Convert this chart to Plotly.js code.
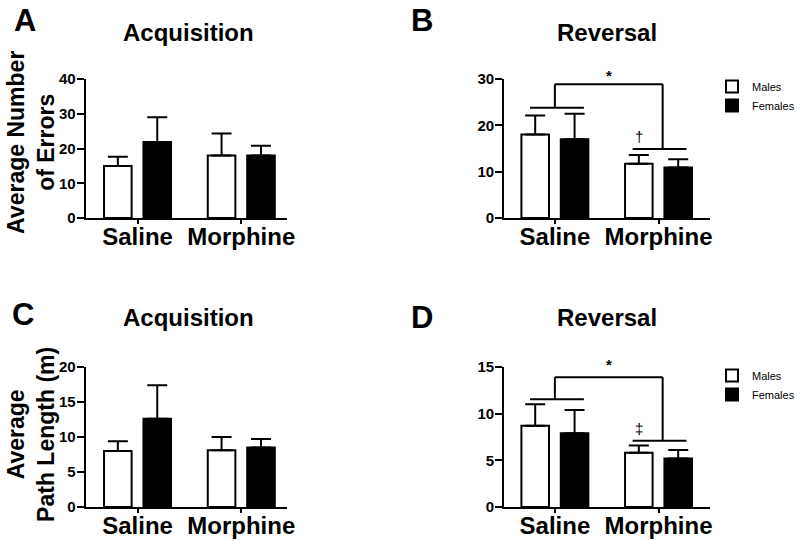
<!DOCTYPE html>
<html>
<head>
<meta charset="utf-8">
<script src="https://cdn.plot.ly/plotly-3.0.1.min.js"></script>
<style>html,body{margin:0;padding:0;background:#fff;}#chart{width:800px;height:546px;}</style>
</head>
<body>
<div id="chart"></div>
<script>
// ---- data ----
const categories = ["Saline", "Morphine"];
const seriesNames = ["Males", "Females"];

// A: Acquisition, average number of errors
const acqErrMales = [15.0, 18.0];
const acqErrMalesSem = [2.6, 6.3];
const acqErrFemales = [21.9, 18.0];
const acqErrFemalesSem = [7.1, 2.8];

// B: Reversal, average number of errors
const revErrMales = [18.0, 11.7];
const revErrMalesSem = [4.1, 1.9];
const revErrFemales = [17.0, 10.9];
const revErrFemalesSem = [5.5, 1.8];

// C: Acquisition, average path length (m)
const acqPathMales = [8.0, 8.1];
const acqPathMalesSem = [1.4, 1.9];
const acqPathFemales = [12.6, 8.5];
const acqPathFemalesSem = [4.8, 1.2];

// D: Reversal, average path length (m)
const revPathMales = [8.7, 5.8];
const revPathMalesSem = [2.3, 0.8];
const revPathFemales = [7.9, 5.2];
const revPathFemalesSem = [2.5, 0.9];

// significance bracket levels [top bracket, saline bar, morphine bar]
const bracketB = [28.85, 23.8, 14.9];
const bracketD = [13.9, 11.55, 7.1];
const markB = "\u2020";
const markD = "\u2021";

const yTicksA = [0, 10, 20, 30, 40];
const yTicksB = [0, 10, 20, 30];
const yTicksC = [0, 5, 10, 15, 20];
const yTicksD = [0, 5, 10, 15];

// ---- build ----
const FONT = "Liberation Sans, Arial, Helvetica, sans-serif";

function barTrace(name, y, sem, ax, fill, legend, show) {
  return {
    type: "bar", name: name, x: categories, y: y,
    xaxis: "x" + ax, yaxis: "y" + ax,
    marker: {color: fill, line: {color: "#000", width: 2}},
    error_y: {type: "data", symmetric: false, array: sem, arrayminus: sem.map(() => 0),
              color: "#000", thickness: 2, width: 10},
    showlegend: show, legend: legend, hoverinfo: "skip"
  };
}

const data = [
  barTrace(seriesNames[0], acqErrMales, acqErrMalesSem, "", "#fff", "legend", false),
  barTrace(seriesNames[1], acqErrFemales, acqErrFemalesSem, "", "#000", "legend", false),
  barTrace(seriesNames[0], revErrMales, revErrMalesSem, "2", "#fff", "legend", true),
  barTrace(seriesNames[1], revErrFemales, revErrFemalesSem, "2", "#000", "legend", true),
  barTrace(seriesNames[0], acqPathMales, acqPathMalesSem, "3", "#fff", "legend", false),
  barTrace(seriesNames[1], acqPathFemales, acqPathFemalesSem, "3", "#000", "legend", false),
  barTrace(seriesNames[0], revPathMales, revPathMalesSem, "4", "#fff", "legend2", true),
  barTrace(seriesNames[1], revPathFemales, revPathFemalesSem, "4", "#000", "legend2", true)
];

function xAxis(domain, anchor, range) {
  return {
    domain: domain, anchor: anchor, type: "category", range: range,
    showline: true, linecolor: "#000", linewidth: 2,
    ticks: "outside", ticklen: 4, tickwidth: 2, tickcolor: "#000",
    ticklabelstandoff: -8,
    tickfont: {family: FONT, size: 24, color: "#000", weight: "bold"},
    showgrid: false, zeroline: false, fixedrange: true
  };
}
function yAxis(domain, anchor, range, tickvals) {
  return {
    domain: domain, anchor: anchor, range: range, tickvals: tickvals,
    showline: true, linecolor: "#000", linewidth: 2,
    ticks: "outside", ticklen: 7, tickwidth: 2, tickcolor: "#000",
    ticklabelstandoff: -2,
    tickfont: {family: FONT, size: 15, color: "#000", weight: "bold"},
    showgrid: false, zeroline: false, fixedrange: true
  };
}

const W = 800, H = 546;
const px = v => v / W;
const py = v => 1 - v / H;

const domXLeft = [px(86), px(288)];
const domXRight = [px(506), px(713)];
const domYTop = [py(218), py(79)];
const domYBot = [py(507), py(367)];

function bracketShapes(ax, lv) {
  const ln = {color: "#000", width: 2};
  const base = {type: "line", xref: "x" + ax, yref: "y" + ax, line: ln, layer: "above"};
  return [
    Object.assign({}, base, {x0: -0.24, x1: 0.28, y0: lv[1], y1: lv[1]}),
    Object.assign({}, base, {x0: 0.75, x1: 1.27, y0: lv[2], y1: lv[2]}),
    Object.assign({}, base, {x0: 0, x1: 1.04, y0: lv[0], y1: lv[0]}),
    Object.assign({}, base, {x0: 0, x1: 0, y0: lv[1], y1: lv[0]}),
    Object.assign({}, base, {x0: 1.04, x1: 1.04, y0: lv[2], y1: lv[0]})
  ];
}

function txt(text, x, y, size, bold, extra) {
  return Object.assign({
    text: text, x: x, y: y, xref: "paper", yref: "paper",
    xanchor: "center", yanchor: "middle", showarrow: false,
    font: {family: FONT, size: size, color: "#000", weight: bold ? "bold" : "normal"}
  }, extra || {});
}

const annotations = [
  txt("A", px(25), py(21), 31, true),
  txt("B", px(424), py(21), 31, true),
  txt("C", px(23), py(314), 31, true),
  txt("D", px(424), py(317), 31, true),
  txt("Acquisition", px(189), py(32), 24, true),
  txt("Reversal", px(609), py(32), 24, true),
  txt("Acquisition", px(189), py(317), 24, true),
  txt("Reversal", px(609), py(317), 24, true),
  txt("Average Number<br>of Errors", px(31), py(142), 23, true, {textangle: -90}),
  txt("Average<br>Path Length (m)", px(31), py(434), 23, true, {textangle: -90}),
  // significance marks
  {text: "*", x: 0.52, y: bracketB[0], xref: "x2", yref: "y2", xanchor: "center", yanchor: "bottom",
   showarrow: false, yshift: -2, font: {family: FONT, size: 15, color: "#000", weight: "bold"}},
  {text: markB, x: 0.81, y: bracketB[2], xref: "x2", yref: "y2", xanchor: "center", yanchor: "bottom",
   showarrow: false, yshift: 2, font: {family: FONT, size: 15, color: "#000"}},
  {text: "*", x: 0.52, y: bracketD[0], xref: "x4", yref: "y4", xanchor: "center", yanchor: "bottom",
   showarrow: false, yshift: 2, font: {family: FONT, size: 15, color: "#000", weight: "bold"}},
  {text: markD, x: 0.81, y: bracketD[2], xref: "x4", yref: "y4", xanchor: "center", yanchor: "bottom",
   showarrow: false, yshift: 2, font: {family: FONT, size: 15, color: "#000"}}
];

const legendBase = {
  xanchor: "left", yanchor: "top", bgcolor: "rgba(0,0,0,0)",
  font: {family: FONT, size: 11, color: "#000"}, tracegroupgap: 0, itemwidth: 30
};

const layout = {
  width: W, height: H,
  margin: {l: 0, r: 0, t: 0, b: 0},
  paper_bgcolor: "#fff", plot_bgcolor: "#fff",
  barmode: "group", bargap: 0.24, bargroupgap: 0.30,
  xaxis: xAxis(domXLeft, "y", [-0.5, 1.44]),
  yaxis: yAxis(domYTop, "x", [0, 40], yTicksA),
  xaxis2: xAxis(domXRight, "y2", [-0.49, 1.5]),
  yaxis2: yAxis(domYTop, "x2", [0, 30], yTicksB),
  xaxis3: xAxis(domXLeft, "y3", [-0.5, 1.44]),
  yaxis3: yAxis(domYBot, "x3", [0, 20], yTicksC),
  xaxis4: xAxis(domXRight, "y4", [-0.49, 1.5]),
  yaxis4: yAxis(domYBot, "x4", [0, 15], yTicksD),
  legend: Object.assign({}, legendBase, {x: px(715), y: py(72)}),
  legend2: Object.assign({}, legendBase, {x: px(715), y: py(361)}),
  shapes: bracketShapes("2", bracketB).concat(bracketShapes("4", bracketD)),
  annotations: annotations,
  showlegend: true
};

Plotly.newPlot("chart", data, layout, {staticPlot: true, displayModeBar: false});
</script>
</body>
</html>
